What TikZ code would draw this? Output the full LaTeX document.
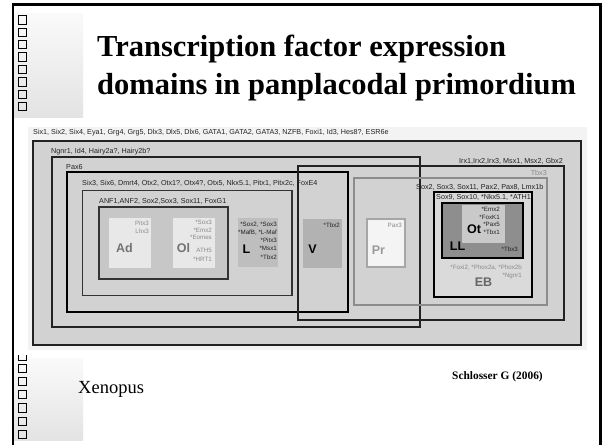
\documentclass[tikz,border=0pt]{standalone}
\usepackage{fontspec}
\setmainfont{Liberation Serif}
\newfontfamily\diagfont{Liberation Sans}
\definecolor{scanbg}{HTML}{F3F3F3}
\definecolor{outerfill}{HTML}{D2D2D2}
\definecolor{ink}{HTML}{222222}
\definecolor{midgray}{HTML}{8C8C8C}
\definecolor{softtext}{HTML}{8A8A8A}
\definecolor{adfill}{HTML}{E8E8E8}
\definecolor{lfill}{HTML}{BEBEBE}
\definecolor{vfill}{HTML}{B2B2B2}
\definecolor{prfill}{HTML}{F4F4F4}
\definecolor{llfill}{HTML}{8E8E8E}
\definecolor{otfill}{HTML}{C9C9C9}
\definecolor{ebfill}{HTML}{DADADA}
\tikzset{
  slideframe/.style={line width=2.4pt, draw=black},
  tofu/.style={draw=black, line width=0.55pt},
  shade box/.style={top color=black!2, bottom color=black!11, draw=none},
  exprbox/.style={draw=ink, line width=1.9pt},
  softexprbox/.style={draw=midgray, line width=1.5pt},
  genes/.style={font=\diagfont\fontsize{7.2}{8}\selectfont, text=ink, inner sep=0pt},
  smallgenes/.style={font=\diagfont\fontsize{6.2}{7.3}\selectfont, text=ink, inner sep=0pt, align=right},
  placode/.style={font=\diagfont\bfseries\fontsize{12.5}{13}\selectfont, inner sep=0pt},
  title/.style={font=\bfseries\fontsize{30.5}{34}\selectfont, inner sep=0pt, anchor=base west}
}
\begin{document}
\begin{tikzpicture}[x=1pt, y=-1pt]
\useasboundingbox (0,0) rectangle (603,445);
\fill[white] (0,0) rectangle (603,445);

% slide frame
\draw[slideframe] (13,445) -- (13,4.5) -- (600.5,4.5) -- (600.5,445);

% shaded side panels with placeholder squares
\shade[shade box] (14.2,13) rectangle (83,117);
\shade[shade box] (14.2,358) rectangle (83,440);
\foreach \i in {0,...,7} \draw[tofu] (18.3,15.5+12.4*\i) rectangle ++(8.4,8.3);
\draw[tofu] (18.3,355) -- (18.3,360) -- (26.7,360) -- (26.7,355);
\foreach \i in {0,...,5} \draw[tofu] (18.3,364+13.2*\i) rectangle ++(8.4,8.3);

% title
\node[title] (t1) at (97,56) {Transcription factor expression};
\node[title] (t2) at (97,94) {domains in panplacodal primordium};

% scanned figure: background and nested expression domains
\fill[scanbg] (28,127) rectangle (587,350);
\draw[draw=ink, line width=1.5pt, fill=outerfill] (33,141) rectangle (581,345);

\draw[exprbox] (52,157) rectangle (420,327);      % Ngnr1 domain
\draw[exprbox, draw=black] (67,172) rectangle (348,312); % Pax6 domain
\draw[exprbox] (298,166) rectangle (564,320);     % Irx domain
\draw[softexprbox] (354,178) rectangle (547,305); % Tbx3 / Sox2 domain
\draw[exprbox, draw=black!80, line width=1.7pt] (82.5,190.5) rectangle (292,295.5); % Six3 domain
\draw[exprbox, draw=black!80, line width=1.7pt, fill=black!22] (99,207) rectangle (228,279); % ANF domain
\draw[exprbox, draw=black, fill=ebfill] (434,192) rectangle (532,297); % Sox9 domain

% individual placodes
\fill[adfill] (109,218) rectangle (151,268);
\fill[adfill] (173,218) rectangle (215,268);
\fill[lfill] (238,218) rectangle (278,267);
\fill[vfill] (303,219) rectangle (342,268);
\draw[draw=black!35, line width=1.8pt, fill=prfill] (367,219) rectangle (405,267);
\fill[llfill] (443,204) rectangle (522,257);
\fill[otfill] (462,205) rectangle (505,243);
\draw[exprbox, draw=black] (442,203) rectangle (523,258);

% domain labels
\node[genes, anchor=west] (g0) at (33,133) {Six1, Six2, Six4, Eya1, Grg4, Grg5, Dlx3, Dlx5, Dlx6, GATA1, GATA2, GATA3, NZFB, Foxi1, Id3, Hes8?, ESR6e};
\node[genes, anchor=west] (g1) at (51,152) {Ngnr1, Id4, Hairy2a?, Hairy2b?};
\node[genes, anchor=west] (g2) at (66,167) {Pax6};
\node[genes, anchor=east] (g3) at (563,161) {Irx1,Irx2,Irx3, Msx1, Msx2, Gbx2};
\node[genes, anchor=east, text=softtext] (g4) at (547,173) {Tbx3};
\node[genes, anchor=west] (g5) at (82,183) {Six3, Six6, Dmrt4, Otx2, Otx1?, Otx4?, Otx5, Nkx5.1, Pitx1, Pitx2c, FoxE4};
\node[genes, anchor=west] (g6) at (416,187) {Sox2, Sox3, Sox11, Pax2, Pax8, Lmx1b};
\node[genes, anchor=west] (g7) at (436,197.5) {Sox9, Sox10, *Nkx5.1, *ATH1};
\node[genes, anchor=west] (g8) at (99,201) {ANF1,ANF2, Sox2,Sox3, Sox11, FoxG1};

% adenohypophyseal placode
\node[smallgenes, anchor=north east, text=softtext] (adg) at (149,220.5) {Pitx3\\[1.2pt]Lhx3};
\node[placode, text=black!55] (ad) at (124.5,248) {Ad};
% olfactory placode
\node[smallgenes, anchor=north east, text=softtext] (olg1) at (212,219.5) {*Sox3\\[1pt]*Emx2\\[0pt]*Eomes};
\node[smallgenes, anchor=north east, text=softtext] (olg2) at (212,248.5) {ATH5\\[1.5pt]*HRT1};
\node[placode, text=black!55] (ol) at (183.5,248) {Ol};
% lens placode
\node[smallgenes, anchor=north east] (lg) at (277,221.5) {*Sox2, *Sox3\\[1pt]*MafB, *L-Maf\\[1pt]*Pitx3\\[1pt]*Msx1\\[1pt]*Tbx2};
\node[placode, text=black] (lp) at (246.5,249) {L};
% trigeminal placode
\node[smallgenes, anchor=north east] (vg) at (340,222.5) {*Tbx2};
\node[placode, text=black] (vp) at (312.5,249) {V};
% profundal placode
\node[smallgenes, anchor=north east, text=softtext] (prg) at (402,222.5) {Pax3};
\node[placode, text=black!40] (pr) at (378.5,250) {Pr};
% otic placode and lateral line
\node[smallgenes, anchor=north east] (otg) at (500,207) {*Emx2\\[0.4pt]*FoxK1\\[0.4pt]*Pax5\\[0.4pt]*Tbx1};
\node[placode, text=black] (ot) at (474,229) {Ot};
\node[placode, text=black] (ll) at (457.5,246.5) {LL};
\node[smallgenes, anchor=east] (llg) at (518,249) {*Tbx3};
% epibranchial placodes
\node[smallgenes, anchor=east, text=softtext] (ebg1) at (522,267.5) {*Foxi2, *Phox2a, *Phox2b};
\node[smallgenes, anchor=east, text=softtext] (ebg2) at (522,276.5) {*Ngnr1};
\node[placode, text=black!60] (eb) at (483.5,282) {EB};

% footer
\node[font=\bfseries\fontsize{11.4}{13}\selectfont, inner sep=0pt, anchor=base west] (src) at (452,379.5) {Schlosser G (2006)};
\node[font=\fontsize{18.5}{21}\selectfont, inner sep=0pt, anchor=base west] (sp) at (78,393) {Xenopus};
\end{tikzpicture}
\end{document}
